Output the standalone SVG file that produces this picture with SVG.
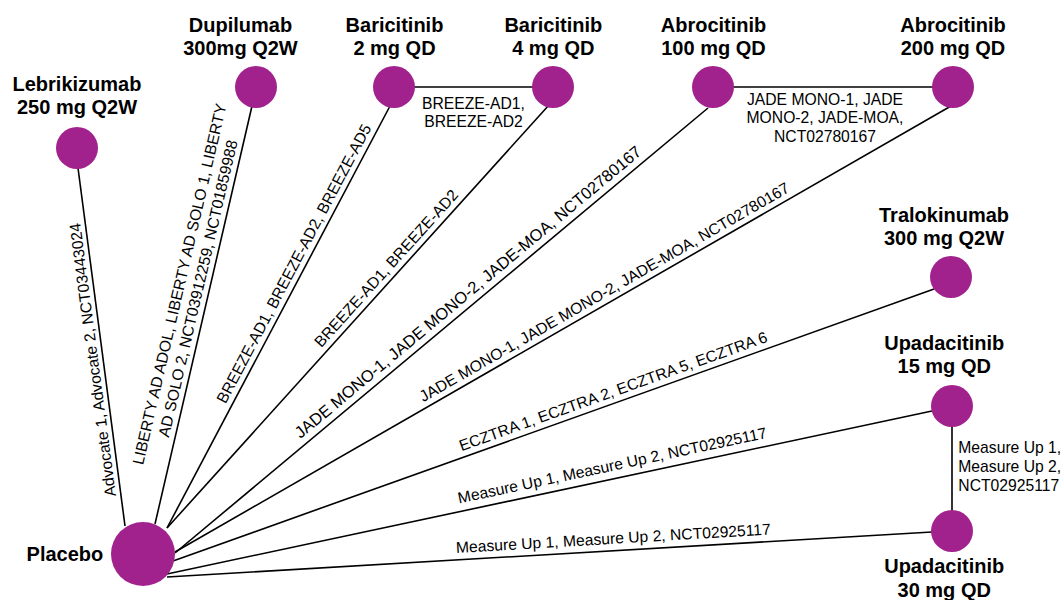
<svg xmlns="http://www.w3.org/2000/svg" width="1062" height="600" viewBox="0 0 1062 600">
<style>
.bg{fill:#ffffff}
.edge{stroke:#000;stroke-width:1.6;fill:none}
.node{fill:#A1228D}
.nl{font-family:"Liberation Sans",Arial,sans-serif;font-size:20px;font-weight:bold;fill:#000}
.el{font-family:"Liberation Sans",Arial,sans-serif;font-size:15.7px;fill:#000}
</style>
<rect class="bg" x="0" y="0" width="1062" height="600"/>
<g id="connectors">
<line class="edge" x1="78" y1="168" x2="125" y2="526"/>
<line class="edge" x1="252" y1="106" x2="155" y2="524"/>
<line class="edge" x1="390" y1="106" x2="167" y2="528"/>
<line class="edge" x1="549" y1="105" x2="167" y2="528"/>
<line class="edge" x1="708" y1="108" x2="175" y2="553"/>
<line class="edge" x1="951" y1="106" x2="175" y2="552"/>
<line class="edge" x1="934" y1="289" x2="173" y2="561"/>
<line class="edge" x1="932" y1="411" x2="167" y2="574"/>
<line class="edge" x1="932" y1="532" x2="167" y2="577"/>
<line class="edge" x1="394" y1="87" x2="553" y2="87"/>
<line class="edge" x1="713" y1="87" x2="953" y2="87"/>
<line class="edge" x1="952" y1="406" x2="952" y2="531"/>
<text class="el" text-anchor="middle" transform="translate(103,358.5) rotate(-97.48)" y="-5">Advocate 1, Advocate 2, NCT03443024</text>
<text class="el" text-anchor="middle" transform="translate(209.1,291) rotate(-76.94)"><tspan x="0" y="-25">LIBERTY AD ADOL, LIBERTY AD SOLO 1, LIBERTY</tspan><tspan x="0" y="-6">AD SOLO 2, NCT03912259, NCT01859988</tspan></text>
<text class="el" text-anchor="middle" transform="translate(304,269) rotate(-62.15)" y="-6">BREEZE-AD1, BREEZE-AD2, BREEZE-AD5</text>
<text class="el" text-anchor="middle" transform="translate(394.6,276) rotate(-47.92)" y="-6">BREEZE-AD1, BREEZE-AD2</text>
<text class="el" text-anchor="middle" style="font-size:16.5px" transform="translate(476,301.7) rotate(-39.86)" y="-7">JADE MONO-1, JADE MONO-2, JADE-MOA, NCT02780167</text>
<text class="el" text-anchor="middle" transform="translate(610,302) rotate(-29.89)" y="-6">JADE MONO-1, JADE MONO-2, JADE-MOA, NCT02780167</text>
<text class="el" text-anchor="middle" transform="translate(617,402) rotate(-19.67)" y="-6">ECZTRA 1, ECZTRA 2, ECZTRA 5, ECZTRA 6</text>
<text class="el" text-anchor="middle" transform="translate(615,478.5) rotate(-12.03)" y="-8">Measure Up 1, Measure Up 2, NCT02925117</text>
<text class="el" text-anchor="middle" transform="translate(614,550.7) rotate(-3.37)" y="-7">Measure Up 1, Measure Up 2, NCT02925117</text>
<text class="el" text-anchor="middle"><tspan x="473.5" y="109">BREEZE-AD1,</tspan><tspan x="473.5" y="127">BREEZE-AD2</tspan></text>
<text class="el" text-anchor="middle"><tspan x="825" y="105">JADE MONO-1, JADE</tspan><tspan x="825" y="123.3">MONO-2, JADE-MOA,</tspan><tspan x="825" y="141.7">NCT02780167</tspan></text>
<text class="el"><tspan x="958.3" y="453.3">Measure Up 1,</tspan><tspan x="958.3" y="472">Measure Up 2,</tspan><tspan x="958.3" y="490.7">NCT02925117</tspan></text>
</g>
<g id="placebo">
<circle class="node" cx="143" cy="554" r="32"/>
<text class="nl" text-anchor="end" x="103.3" y="561">Placebo</text>
</g>
<g id="lebrikizumab">
<circle class="node" cx="77" cy="148" r="21"/>
<text class="nl" text-anchor="middle"><tspan x="77" y="90.7">Lebrikizumab</tspan><tspan x="77" y="114.3">250 mg Q2W</tspan></text>
</g>
<g id="dupilumab">
<circle class="node" cx="256" cy="87" r="21"/>
<text class="nl" text-anchor="middle"><tspan x="240.5" y="31.7">Dupilumab</tspan><tspan x="240.5" y="55">300mg Q2W</tspan></text>
</g>
<g id="baricitinib2">
<circle class="node" cx="394" cy="87" r="21"/>
<text class="nl" text-anchor="middle"><tspan x="394.5" y="31.7">Baricitinib</tspan><tspan x="394.5" y="55">2 mg QD</tspan></text>
</g>
<g id="baricitinib4">
<circle class="node" cx="553" cy="87" r="21"/>
<text class="nl" text-anchor="middle"><tspan x="553.3" y="31.7">Baricitinib</tspan><tspan x="553.3" y="55">4 mg QD</tspan></text>
</g>
<g id="abrocitinib100">
<circle class="node" cx="713" cy="87" r="21"/>
<text class="nl" text-anchor="middle"><tspan x="713.5" y="31.7">Abrocitinib</tspan><tspan x="713.5" y="55">100 mg QD</tspan></text>
</g>
<g id="abrocitinib200">
<circle class="node" cx="953" cy="87" r="21"/>
<text class="nl" text-anchor="middle"><tspan x="953" y="31.7">Abrocitinib</tspan><tspan x="953" y="55">200 mg QD</tspan></text>
</g>
<g id="tralokinumab">
<circle class="node" cx="951" cy="277" r="21"/>
<text class="nl" text-anchor="middle"><tspan x="944" y="222">Tralokinumab</tspan><tspan x="944" y="245">300 mg Q2W</tspan></text>
</g>
<g id="upadacitinib15">
<circle class="node" cx="952" cy="406" r="21"/>
<text class="nl" text-anchor="middle"><tspan x="944.2" y="349.5">Upadacitinib</tspan><tspan x="944.2" y="373.3">15 mg QD</tspan></text>
</g>
<g id="upadacitinib30">
<circle class="node" cx="952" cy="531" r="21"/>
<text class="nl" text-anchor="middle"><tspan x="944.2" y="573.3">Upadacitinib</tspan><tspan x="944.2" y="596.7">30 mg QD</tspan></text>
</g>
</svg>
